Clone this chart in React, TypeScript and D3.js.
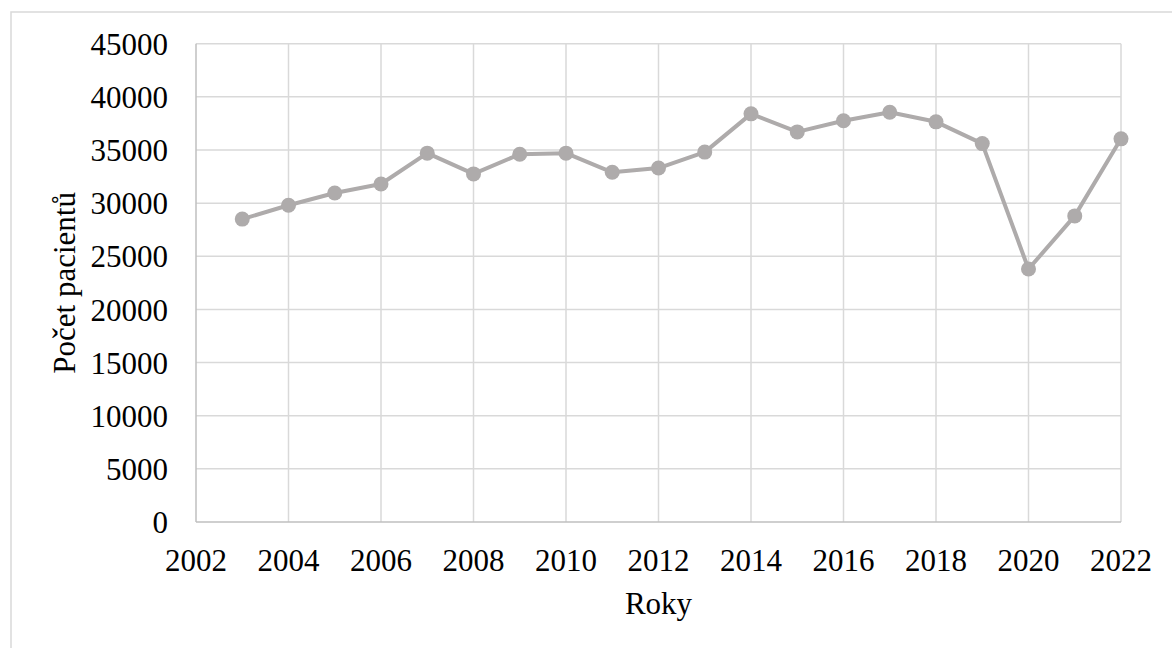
import { useEffect, useRef } from 'react';
import * as d3 from 'd3';

const years = [2003, 2004, 2005, 2006, 2007, 2008, 2009, 2010, 2011, 2012, 2013, 2014, 2015, 2016, 2017, 2018, 2019, 2020, 2021, 2022];
const patients = [28500, 29800, 30950, 31800, 34700, 32750, 34600, 34700, 32900, 33300, 34800, 38400, 36700, 37750, 38550, 37650, 35600, 23800, 28800, 36050];
const xTicks = [2002, 2004, 2006, 2008, 2010, 2012, 2014, 2016, 2018, 2020, 2022];
const yTicks = [0, 5000, 10000, 15000, 20000, 25000, 30000, 35000, 40000, 45000];

const WIDTH = 1172;
const HEIGHT = 648;
const FONT = '"Liberation Serif", "Times New Roman", serif';

export default function App() {
  const svgRef = useRef<SVGSVGElement>(null);

  useEffect(() => {
    document.body.style.margin = '0';
    if (!svgRef.current) return;

    const svg = d3.select(svgRef.current);
    svg.selectAll('*').remove();

    const margin = { top: 43.7, right: 51, bottom: 126, left: 196 };

    const x = d3.scaleLinear()
      .domain([2002, 2022])
      .range([margin.left, WIDTH - margin.right]);
    const y = d3.scaleLinear()
      .domain([0, 45000])
      .range([HEIGHT - margin.bottom, margin.top]);

    // outer chart border
    svg.append('rect')
      .attr('x', 11)
      .attr('y', 12)
      .attr('width', WIDTH)
      .attr('height', HEIGHT)
      .attr('fill', 'none')
      .attr('stroke', '#d9d9d9')
      .attr('stroke-width', 1.5);

    // horizontal gridlines
    svg.append('g')
      .selectAll('line')
      .data(yTicks.filter(d => d > 0))
      .enter()
      .append('line')
      .attr('x1', x(2002))
      .attr('x2', x(2022))
      .attr('y1', d => y(d))
      .attr('y2', d => y(d))
      .attr('stroke', '#d9d9d9')
      .attr('stroke-width', 1.5);

    // vertical gridlines
    svg.append('g')
      .selectAll('line')
      .data(xTicks.filter(d => d > 2002))
      .enter()
      .append('line')
      .attr('x1', d => x(d))
      .attr('x2', d => x(d))
      .attr('y1', y(0))
      .attr('y2', y(45000))
      .attr('stroke', '#d9d9d9')
      .attr('stroke-width', 1.5);

    // axis lines
    svg.append('line')
      .attr('x1', x(2002)).attr('x2', x(2002))
      .attr('y1', y(0)).attr('y2', y(45000))
      .attr('stroke', '#bfbfbf')
      .attr('stroke-width', 1.5);
    svg.append('line')
      .attr('x1', x(2002)).attr('x2', x(2022))
      .attr('y1', y(0)).attr('y2', y(0))
      .attr('stroke', '#bfbfbf')
      .attr('stroke-width', 1.5);

    // y tick labels
    svg.append('g')
      .selectAll('text')
      .data(yTicks)
      .enter()
      .append('text')
      .attr('x', 168)
      .attr('y', d => y(d))
      .attr('dy', '0.36em')
      .attr('text-anchor', 'end')
      .attr('font-size', '31px')
      .attr('fill', '#000')
      .style('font-family', FONT)
      .text(d => String(d));

    // x tick labels
    svg.append('g')
      .selectAll('text')
      .data(xTicks)
      .enter()
      .append('text')
      .attr('x', d => x(d))
      .attr('y', y(0) + 49)
      .attr('text-anchor', 'middle')
      .attr('font-size', '31px')
      .attr('fill', '#000')
      .style('font-family', FONT)
      .text(d => String(d));

    // axis titles
    svg.append('text')
      .attr('x', (x(2002) + x(2022)) / 2)
      .attr('y', 614)
      .attr('text-anchor', 'middle')
      .attr('font-size', '31px')
      .attr('fill', '#000')
      .style('font-family', FONT)
      .text('Roky');

    svg.append('text')
      .attr('transform', `translate(75, ${(y(0) + y(45000)) / 2}) rotate(-90)`)
      .attr('text-anchor', 'middle')
      .attr('font-size', '31px')
      .attr('fill', '#000')
      .style('font-family', FONT)
      .text('Počet pacientů');

    // series
    const points = years.map((yr, i) => ({ year: yr, value: patients[i] }));
    const line = d3.line<{ year: number; value: number }>()
      .x(d => x(d.year))
      .y(d => y(d.value));

    svg.append('path')
      .datum(points)
      .attr('d', line)
      .attr('fill', 'none')
      .attr('stroke', '#aeabab')
      .attr('stroke-width', 4)
      .attr('stroke-linejoin', 'round');

    svg.append('g')
      .selectAll('circle')
      .data(points)
      .enter()
      .append('circle')
      .attr('cx', d => x(d.year))
      .attr('cy', d => y(d.value))
      .attr('r', 7.5)
      .attr('fill', '#aeabab');
  }, []);

  return <svg ref={svgRef} width={WIDTH} height={HEIGHT} style={{ display: 'block' }} />;
}
